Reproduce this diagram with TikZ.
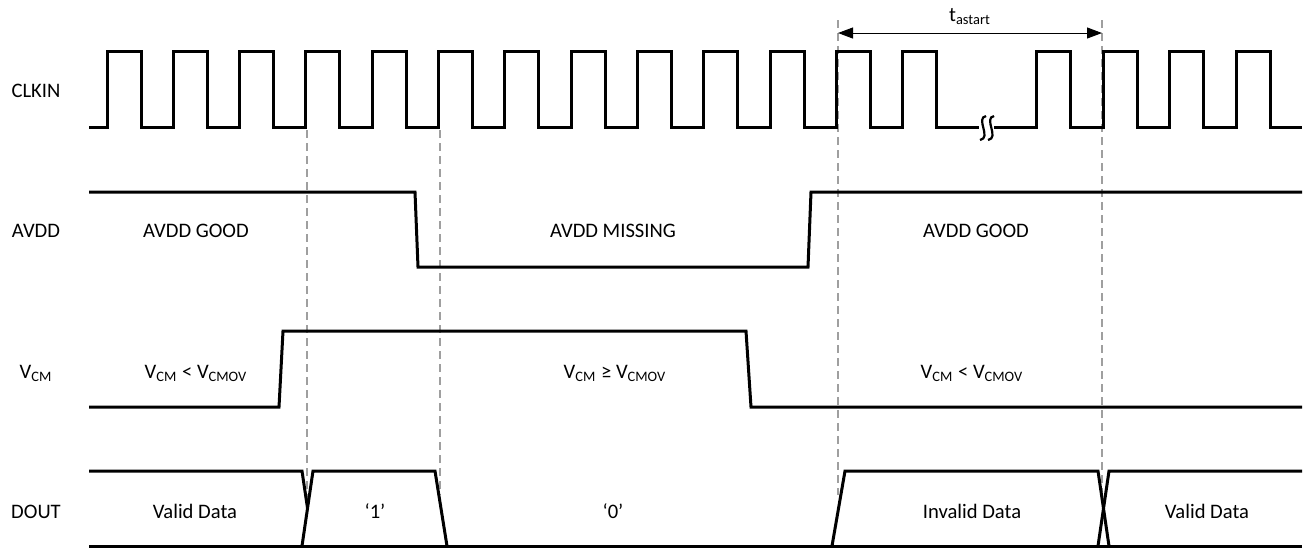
\documentclass[tikz,border=0pt]{standalone}
\usepackage{fontspec}
\setmainfont{Carlito}
\usetikzlibrary{arrows.meta}
\tikzset{
	wave/.style={line width=1.5pt},
	brk/.style={line width=1.1pt},
	guide/.style={gray!75, line width=0.6pt, dash pattern=on 4pt off 2.5pt},
	lbl/.style={anchor=base, inner sep=0pt, font=\fontsize{10.3}{12}\selectfont},
	span/.style={{Triangle[length=7.5pt,width=5.5pt]}-{Triangle[length=7.5pt,width=5.5pt]}, line width=0.5pt},
}
\begin{document}
\begin{tikzpicture}[x=0.5pt, y=-0.5pt]
			\useasboundingbox (0,0) rectangle (1307,548);

			% guide lines
			\foreach \gx/\gt/\gb [count=\i] in {307/130/503, 440/130/495, 838/20/495, 1102/20/492}{
				\coordinate (gt\i) at (\gx,\gt);
				\coordinate (gb\i) at (\gx,\gb);
				\draw[guide] (gt\i) to (gb\i);
			}

			% signal names
			\node[lbl] (clkin) at(36, 97){CLKIN};
			\node[lbl] (avdd) at(36, 237){AVDD};
			\node[lbl] (vcm) at(36, 378){V\textsubscript{CM}};
			\node[lbl] (dout) at(36, 518){DOUT};

			% CLKIN
			\draw[wave] (89,127) foreach \n in {0,...,12}{
					-- ({107+66.33*\n},127) -- ++(0,-76) -- ++(34,0) -- ++(0,76)} -- (979,127);
				\draw[brk] (986,116) .. controls (975,118) and (992,138) .. (980,140);
				\draw[brk] (994,116) .. controls (983,118) and (1000,138) .. (988,140);
			\draw[wave] (994,127) foreach \r in {1036,1103,1169,1236}{
					-- (\r,127) -- (\r,51) -- ({\r+34},51) -- ({\r+34},127)} -- (1302,127);
				\coordinate (ts) at (838,33);
				\coordinate (te) at (1102,33);
				\draw[span] (ts) to (te);
				\node[lbl] (tastart) at(970, 21){t\textsubscript{astart}};

			% AVDD
			\draw[wave] (89,192) -- (415,192) -- (418,267) -- (808,267) -- (811,192) -- (1302,192);
				\node[lbl] (good1) at(196, 237){AVDD GOOD};
				\node[lbl] (miss) at(613, 237){AVDD MISSING};
				\node[lbl] (good2) at(976, 237){AVDD GOOD};

			% VCM
			\draw[wave] (89,407) -- (279,407) -- (283,331) -- (746,331) -- (751,407) -- (1302,407);
				\node[lbl] (low1) at(196, 378){V\textsubscript{CM} < V\textsubscript{CMOV}};
				\node[lbl] (high) at(615, 378){V\textsubscript{CM} ≥ V\textsubscript{CMOV}};
				\node[lbl] (low2) at(972, 378){V\textsubscript{CM} < V\textsubscript{CMOV}};

			% DOUT
			\draw[wave] (89,546) -- (1302,546);
			\draw[wave] (89,471) -- (302,471) -- (307.5,508);
			\draw[wave] (302,546) -- (313,471) -- (435,471) -- (447,546);
			\draw[wave] (832,546) -- (845,471) -- (1098,471) -- (1109,546);
			\draw[wave] (1098,546) -- (1109,471) -- (1302,471);
				\node[lbl] (valid1) at(195, 518){Valid Data};
				\node[lbl] (one) at(375, 518){‘1’};
				\node[lbl] (zero) at(613, 518){‘0’};
				\node[lbl] (invalid) at(972, 518){Invalid Data};
				\node[lbl] (valid2) at(1207, 518){Valid Data};

		\end{tikzpicture}
\end{document}
